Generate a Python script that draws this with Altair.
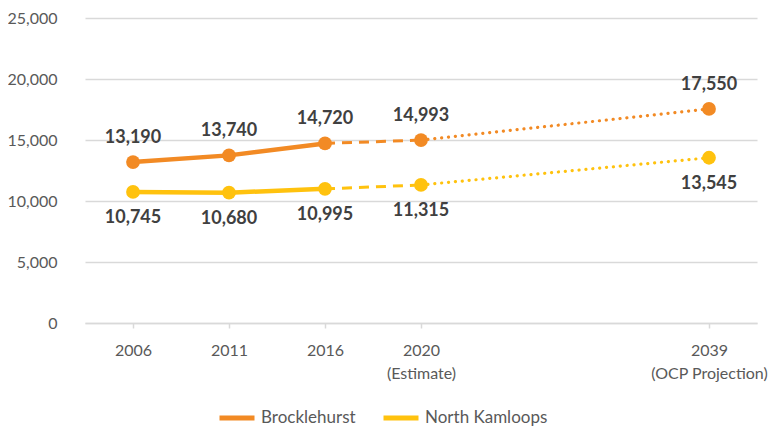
import altair as alt
import pandas as pd

categories = ["2006", "2011", "2016", "2020", "2039"]
sublabels = ["", "", "", "(Estimate)", "(OCP Projection)"]
cat_pos = [0, 1, 2, 3, 6]
series_names = ["Brocklehurst", "North Kamloops"]
brocklehurst = [13190, 13740, 14720, 14993, 17550]
north_kamloops = [10745, 10680, 10995, 11315, 13545]
colors = ["#F28A24", "#FFC20E"]
y_ticks = [0, 5000, 10000, 15000, 20000, 25000]

segments = {"solid": [0, 1, 2], "dashed": [2, 3], "dotted": [3, 4]}

line_rows = []
pt_rows = []
for name, vals in zip(series_names, [brocklehurst, north_kamloops]):
    for seg, idxs in segments.items():
        for i in idxs:
            line_rows.append(dict(series=name, seg=seg, pos=cat_pos[i], value=vals[i]))
    for i, v in enumerate(vals):
        pt_rows.append(dict(series=name, pos=cat_pos[i], value=v, cat=categories[i]))
line_df = pd.DataFrame(line_rows)
pt_df = pd.DataFrame(pt_rows)

expr = "''"
for p, c, s in reversed(list(zip(cat_pos, categories, sublabels))):
    lab = f"['{c}','{s}']" if s else f"'{c}'"
    expr = f"datum.value == {p} ? {lab} : ({expr})"

FONT = "Lato"
x = alt.X("pos:Q", scale=alt.Scale(domain=[-0.5, 6.5], nice=False, zero=False),
          axis=alt.Axis(values=cat_pos, labelExpr=expr, title=None, grid=False,
                        domainColor="#D9D9D9", domainWidth=1.5, tickColor="#D9D9D9",
                        tickWidth=1.5, tickSize=5, labelPadding=14, labelFontSize=16,
                        labelColor="#595959", labelFont=FONT, labelLineHeight=23,
                        labelBaseline="top"))
y = alt.Y("value:Q", scale=alt.Scale(domain=[0, 25000], nice=False),
          axis=alt.Axis(values=y_ticks, format=",d", title=None, grid=True,
                        gridColor="#D9D9D9", gridWidth=1.5, domain=False, ticks=False,
                        labelPadding=28, labelFontSize=16, labelColor="#595959",
                        labelFont=FONT))
color = alt.Color("series:N", scale=alt.Scale(domain=series_names, range=colors),
                  legend=alt.Legend(title=None, orient="none", legendX=132, legendY=380,
                                    direction="horizontal", symbolType="stroke",
                                    symbolSize=1225, symbolStrokeWidth=5,
                                    labelFontSize=17, labelColor="#595959", labelFont=FONT,
                                    columnPadding=17, labelOffset=4))

base = alt.Chart(line_df)
solid = base.transform_filter("datum.seg == 'solid'").mark_line(strokeWidth=4.5).encode(
    x=x, y=y, color=color, detail="series:N")
dashed = base.transform_filter("datum.seg == 'dashed'").mark_line(
    strokeWidth=3, strokeDash=[10, 7]).encode(x=x, y=y, color=color, detail="series:N")
dotted = base.transform_filter("datum.seg == 'dotted'").mark_line(
    strokeWidth=3.2, strokeDash=[0.1, 6.8], strokeCap="round").encode(
    x=x, y=y, color=color, detail="series:N")

pts = alt.Chart(pt_df).mark_circle(size=190, opacity=1).encode(x=x, y=y, color=color)

lab_top = alt.Chart(pt_df).transform_filter("datum.series == 'Brocklehurst'").mark_text(
    dy=-24, fontSize=18, fontWeight="bold", color="#404040", font=FONT).encode(
    x=x, y=y, text=alt.Text("value:Q", format=",d"))
lab_bot = alt.Chart(pt_df).transform_filter("datum.series == 'North Kamloops'").mark_text(
    dy=26, fontSize=18, fontWeight="bold", color="#404040", font=FONT).encode(
    x=x, y=y, text=alt.Text("value:Q", format=",d"))

chart = alt.layer(solid, dashed, dotted, pts, lab_top, lab_bot).properties(
    width=672, height=305,
    autosize=alt.AutoSizeParams(type="none"),
    padding={"left": 77, "top": 10, "right": 15, "bottom": 104},
    background="white",
).configure_view(strokeWidth=0)

chart.save("out.html", embed_options={"renderer": "svg", "actions": False})
